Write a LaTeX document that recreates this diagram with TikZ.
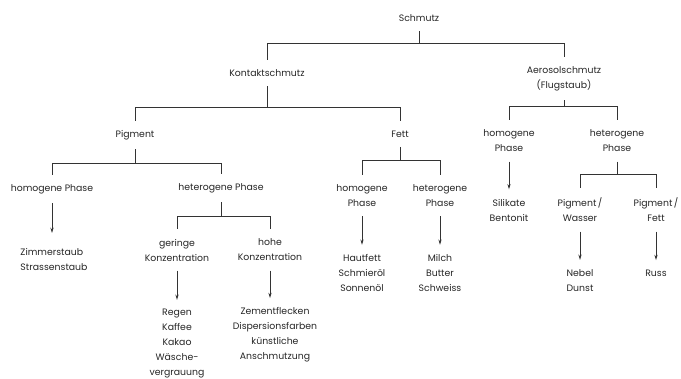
\documentclass[tikz,border=0pt]{standalone}
\usepackage{fontspec}
\setmainfont{Poppins}
\usepackage{tikz}
\usetikzlibrary{arrows.meta}

\begin{document}
\begin{tikzpicture}[x=0.75pt,y=-0.75pt,
        lbl/.style={align=center,inner sep=7pt,text=black!85,
            font=\fontsize{7}{11.25}\selectfont},
        tree/.style={draw=black!80,line width=0.6pt},
        arr/.style={tree,-{Stealth[length=4pt,width=2.4pt]}}]
        \useasboundingbox (0,0) rectangle (681,378);
        % first level
        \node[lbl] (schmutz) at (419,18) {Schmutz};
        \node[lbl] (kontakt) at (267,73) {Kontaktschmutz};
        \node[lbl] (aerosol) at (564,78.5) {Aerosolschmutz\\(Flugstaub)};
        % second level
        \node[lbl] (pigment) at (135,135) {Pigment};
        \node[lbl] (fett) at (400,134) {Fett};
        \node[lbl] (homA) at (509,141) {homogene\\Phase};
        \node[lbl] (hetA) at (617,141) {heterogene\\Phase};
        % third level
        \node[lbl] (homP) at (52,189) {homogene Phase};
        \node[lbl] (hetP) at (221,188) {heterogene Phase};
        \node[lbl] (homF) at (362,195.5) {homogene\\Phase};
        \node[lbl] (hetF) at (440,195.5) {heterogene\\Phase};
        \node[lbl] (silikat) at (509,210) {Silikate\\Bentonit};
        \node[lbl] (pigW) at (580,210) {Pigment\,/\\Wasser};
        \node[lbl] (pigF) at (656,210) {Pigment\,/\\Fett};
        % fourth level
        \node[lbl] (gering) at (177,250) {geringe\\Konzentration};
        \node[lbl] (hoch) at (270,250) {hohe\\Konzentration};
        \node[lbl,align=left] (zimmer) at (54,259) {Zimmerstaub\\Strassenstaub};
        \node[lbl] (haut) at (362,273) {Hautfett\\Schmieröl\\Sonnenöl};
        \node[lbl] (milch) at (440,273) {Milch\\Butter\\Schweiss};
        \node[lbl] (nebel) at (580,280.5) {Nebel\\Dunst};
        \node[lbl] (russ) at (656,273) {Russ};
        % bottom
        \node[lbl] (regen) at (177,344) {Regen\\Kaffee\\Kakao\\Wäsche-\\vergrauung};
        \node[lbl] (zement) at (275,335) {Zementflecken\\Dispersionsfarben\\künstliche\\Anschmutzung};

        % branches
        \draw[tree] (schmutz.south) -- ++(0,12) coordinate (b-schmutz) -| (kontakt.north);
        \draw[tree] (b-schmutz) -| (aerosol.north);
        \draw[tree] (kontakt.south) -- ++(0,21) coordinate (b-kontakt) -| (pigment.north);
        \draw[tree] (b-kontakt) -| (fett.north);
        \draw[tree] (aerosol.south) -- ++(0,6) coordinate (b-aerosol) -| (homA.north);
        \draw[tree] (b-aerosol) -| (hetA.north);
        \draw[tree] (pigment.south) -- ++(0,14) coordinate (b-pigment) -| (homP.north);
        \draw[tree] (b-pigment) -| (hetP.north);
        \draw[tree] (hetP.south) -- ++(0,14) coordinate (b-hetP) -| (gering.north);
        \draw[tree] (b-hetP) -| (hoch.north);
        \draw[tree] (fett.south) -- ++(0,14) coordinate (b-fett) -| (homF.north);
        \draw[tree] (b-fett) -| (hetF.north);
        \draw[tree] (hetA.south) -- ++(0,13) coordinate (b-hetA) -| (pigW.north);
        \draw[tree] (b-hetA) -| (pigF.north);

        % arrows
        \draw[arr,shorten >=4pt] (homP.south) -- (homP.south |- zimmer.north);
        \draw[arr] (gering) -- (regen);
        \draw[arr] (hoch.south) -- (hoch.south |- zement.north);
        \draw[arr] (homF) -- (haut);
        \draw[arr] (hetF) -- (milch);
        \draw[arr] (homA) -- (silikat);
        \draw[arr] (pigW) -- (pigW.south |- nebel.north);
        \draw[arr] (pigF) -- (russ);
    \end{tikzpicture}
\end{document}
